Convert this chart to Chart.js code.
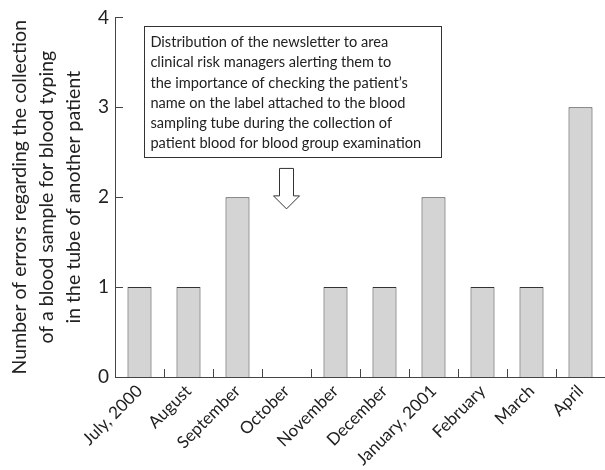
<!DOCTYPE html>
<html>
<head>
<meta charset="utf-8">
<script src="https://cdn.jsdelivr.net/npm/chart.js@4"></script>
<style>
html, body { margin: 0; padding: 0; background: #fff; }
</style>
</head>
<body>
<canvas id="myChart" width="605" height="470"></canvas>
<script>
const months = ["July, 2000", "August", "September", "October", "November", "December", "January, 2001", "February", "March", "April"];
const errors = [1, 1, 2, 0, 1, 1, 2, 1, 1, 3];
const yTicks = [0, 1, 2, 3, 4];
const yTitle = ["Number of errors regarding the collection", "of a blood sample for blood typing", "in the tube of another patient"];
const noteLines = [
    "Distribution of the newsletter to area",
    "clinical risk managers alerting them to",
    "the importance of checking the patient\u2019s",
    "name on the label attached to the blood",
    "sampling tube during the collection of",
    "patient blood for blood group examination"
];

const FONT = "Lato, 'Open Sans', sans-serif";
const INK = "#222";
const AXIS = "#444";

// note box and arrow, placed in value/category units so the scales position them
const note = { left: 0.1, right: 6.16, top: 3.9, bottom: 2.44 };
const arrow = { at: 3, top: 2.32, tip: 1.87 };

const extras = {
    id: "extras",
    afterDraw(chart) {
        const ctx = chart.ctx;
        const xs = chart.scales.x;
        const ys = chart.scales.y;
        const area = chart.chartArea;
        const half = (xs.getPixelForValue(1) - xs.getPixelForValue(0)) / 2;

        ctx.save();
        ctx.strokeStyle = AXIS;
        ctx.lineWidth = 1;

        // inward tick marks
        ctx.beginPath();
        for (let i = 0; i < months.length - 1; i++) {
            const x = Math.round(xs.getPixelForValue(i) + half) + 0.5;
            ctx.moveTo(x, area.bottom);
            ctx.lineTo(x, area.bottom - 8);
        }
        yTicks.forEach(function(v) {
            const y = Math.round(ys.getPixelForValue(v)) + 0.5;
            ctx.moveTo(area.left, y);
            ctx.lineTo(area.left + 8, y);
        });
        ctx.stroke();

        // note box
        const bl = xs.getPixelForValue(note.left);
        const br = xs.getPixelForValue(note.right);
        const bt = ys.getPixelForValue(note.top);
        const bb = ys.getPixelForValue(note.bottom);
        ctx.fillStyle = "#fff";
        ctx.fillRect(bl, bt, br - bl, bb - bt);
        ctx.strokeStyle = "#333";
        ctx.strokeRect(Math.round(bl) + 0.5, Math.round(bt) + 0.5, Math.round(br - bl), Math.round(bb - bt));

        ctx.fillStyle = INK;
        ctx.font = "14.6px " + FONT;
        ctx.textBaseline = "middle";
        ctx.textAlign = "left";
        const lh = (bb - bt - 10) / noteLines.length;
        noteLines.forEach(function(line, i) {
            ctx.fillText(line, bl + 6, bt + 6 + lh * (i + 0.5));
        });

        // down arrow
        const ax = xs.getPixelForValue(arrow.at);
        const at = ys.getPixelForValue(arrow.top);
        const ab = ys.getPixelForValue(arrow.tip);
        const neck = ab - 13;
        ctx.beginPath();
        ctx.moveTo(ax - 7, at);
        ctx.lineTo(ax + 7, at);
        ctx.lineTo(ax + 7, neck);
        ctx.lineTo(ax + 13, neck);
        ctx.lineTo(ax, ab);
        ctx.lineTo(ax - 13, neck);
        ctx.lineTo(ax - 7, neck);
        ctx.closePath();
        ctx.fillStyle = "#fff";
        ctx.fill();
        ctx.strokeStyle = "#333";
        ctx.stroke();
        ctx.restore();
    }
};

const ctx = document.getElementById("myChart").getContext("2d");
const myChart = new Chart(ctx, {
    type: "bar",
    data: {
        labels: months,
        datasets: [{
            data: errors,
            backgroundColor: "#d4d4d4",
            borderColor: "#333",
            borderWidth: 1,
            barPercentage: 0.49,
            categoryPercentage: 1,
        }],
    },
    options: {
        responsive: false,
        animation: false,
        devicePixelRatio: 1,
        layout: { padding: { top: 16, right: 0, left: 0, bottom: 0 } },
        plugins: {
            legend: { display: false },
            tooltip: { enabled: false },
        },
        scales: {
            x: {
                grid: { display: false, drawTicks: false },
                border: { display: true, color: AXIS, width: 1 },
                ticks: {
                    color: INK,
                    font: { family: FONT, size: 17 },
                    minRotation: 45,
                    maxRotation: 45,
                    autoSkip: false,
                    padding: 4,
                },
                afterFit: function(s) { s.height = 93; },
            },
            y: {
                min: 0,
                max: 4,
                grid: { display: false, drawTicks: false },
                border: { display: true, color: AXIS, width: 1 },
                afterBuildTicks: function(s) { s.ticks = yTicks.map(function(v) { return { value: v }; }); },
                ticks: {
                    color: INK,
                    font: { family: FONT, size: 19 },
                    padding: 6,
                },
                title: {
                    display: true,
                    text: yTitle,
                    color: INK,
                    font: { family: FONT, size: 19.5, lineHeight: 1.38 },
                    padding: { top: 6, bottom: 0 },
                },
                afterFit: function(s) { s.width = 115; },
            },
        },
    },
    plugins: [extras],
});
</script>
</body>
</html>
